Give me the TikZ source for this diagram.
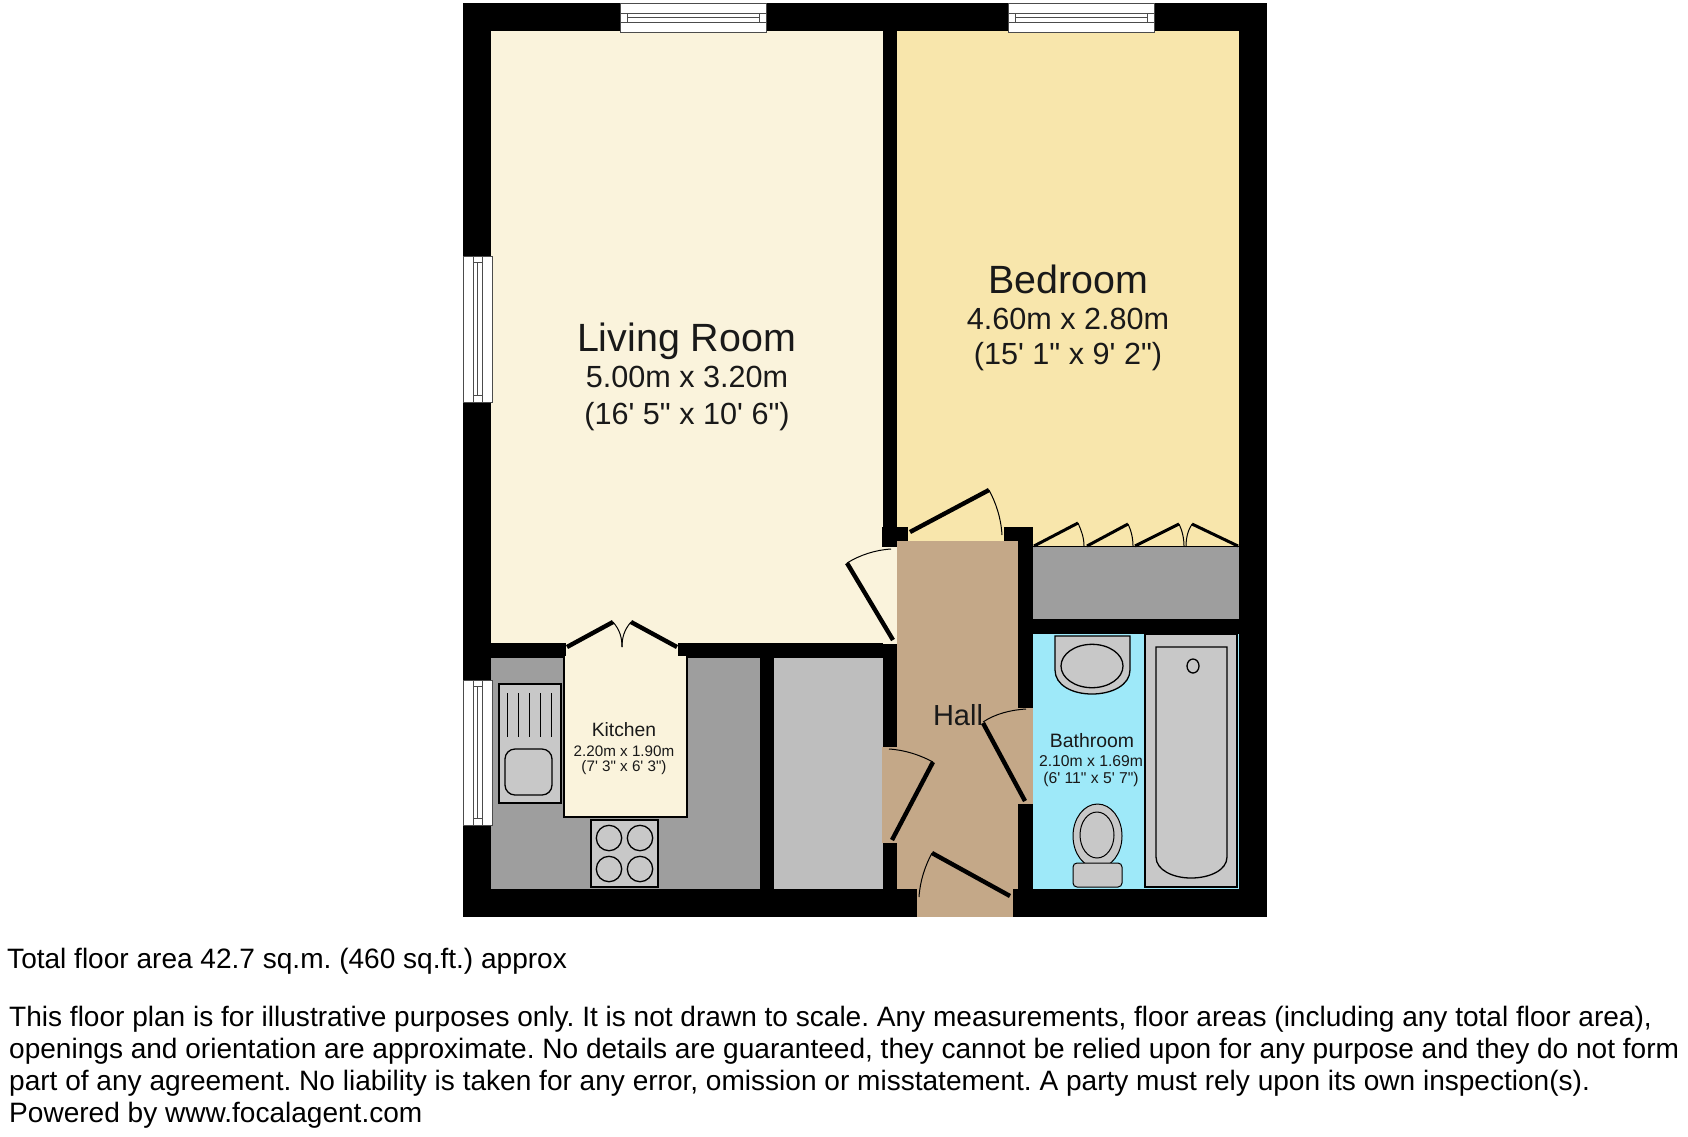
\documentclass[tikz,border=0pt]{standalone}
\usepackage{fontspec}
\setmainfont{Liberation Sans}[Ligatures=TeXOff]
\definecolor{livingc}{HTML}{FAF3DC}
\definecolor{bedc}{HTML}{F8E6AC}
\definecolor{hallc}{HTML}{C4A888}
\definecolor{bathc}{HTML}{9EE9F9}
\definecolor{unitc}{HTML}{9E9E9E}
\definecolor{cupc}{HTML}{BEBEBE}
\definecolor{fixc}{HTML}{C8C8C8}
\tikzset{
  leaf/.style={line width=4.4pt,line cap=butt},
  closetleaf/.style={line width=3pt,line cap=butt},
  swing/.style={line width=1pt},
  fixture/.style={draw=black,fill=fixc,line width=1.3pt},
  winframe/.style={draw=black!70,fill=white,line width=0.9pt},
  winline/.style={draw=black!70,line width=0.9pt},
  lbl/.style={inner sep=0pt,text=black!90},
  foot/.style={inner sep=0pt,anchor=base west,font=\fontsize{28.05}{28.05}\selectfont}
}
\begin{document}
\frenchspacing
\begin{tikzpicture}[x=1pt,y=-1pt]
\useasboundingbox (0,0) rectangle (1688,1136);
\fill[white] (0,0) rectangle (1688,1136);
% outer shell
\fill[black] (463,3) rectangle (1267,917);
% floors
\fill[livingc] (491,31) rectangle (883,643);
\fill[livingc] (883,547) rectangle (897,644);
\fill[bedc] (897,31) rectangle (1239,546);
\fill[unitc] (491,658) rectangle (760,889);
\fill[cupc] (774,658) rectangle (883,889);
\fill[unitc] (1033,546) rectangle (1239,619);
\fill[bathc] (1033,634) rectangle (1239,889);
% hall with door openings
\fill[hallc] (897,541) rectangle (1018,889);
\fill[hallc] (882,747) rectangle (897,843);
\fill[hallc] (1018,708) rectangle (1033,804);
\fill[hallc] (917,889) rectangle (1013,917);
\fill[bedc] (908,527) rectangle (1004,541);
% wall stubs
\fill[black] (882,527) rectangle (897,547);
\fill[black] (897,527) rectangle (908,541);
\fill[black] (1004,527) rectangle (1033,541);
\fill[black] (1018,527) rectangle (1033,708);
\fill[black] (1033,619) rectangle (1239,634);
% kitchen
\fill[livingc] (566,643) rectangle (678,658);
\draw[draw=black,line width=1.2pt] (564,658) -- (564,817) -- (687,817) -- (687,658);
\fill[livingc] (564.6,656) rectangle (686.4,816.4);
\draw[fixture] (499,684) rectangle (561,803);
\foreach \xr in {507.3,518.3,529.3,540.7,551.7}
  \draw[black,line width=1.3pt] (\xr,693) -- (\xr,737);
\draw[fixture,rounded corners=10pt] (505,749) rectangle (552,795);
\draw[fixture] (591,820) rectangle (658,887);
\foreach \cx in {609,640} \foreach \cy in {838,869}
  \draw[fixture] (\cx,\cy) circle (12.7);
% windows: horizontal
\foreach \wx in {620.5,1008.5} {
  \begin{scope}[xshift=\wx pt]
    \draw[winframe] (0,3) rectangle (145.5,32.5);
    \draw[winline] (0,13) -- (145.5,13);
    \draw[winline] (0,22.5) -- (145.5,22.5);
    \draw[winline] (6.5,13) -- (6.5,22.5);
    \draw[winline] (139,13) -- (139,22.5);
    \draw[winline] (6.5,17.8) -- (139,17.8);
  \end{scope}
}
% windows: vertical
\foreach \wy/\wh in {256/146,680/145} {
  \begin{scope}[yshift=-\wy pt]
    \draw[winframe] (463,0) rectangle (492.5,\wh);
    \draw[winline] (473,0) -- (473,\wh);
    \draw[winline] (482.8,0) -- (482.8,\wh);
    \draw[winline] (473,6.3) -- (482.8,6.3);
    \draw[winline] (473,\wh-6.5) -- (482.8,\wh-6.5);
    \draw[winline] (477.9,6.3) -- (477.9,\wh-6.5);
  \end{scope}
}
% closet line
\draw[black,line width=1pt] (1033,546) -- (1239,546);
% doors
\draw[leaf] (567,647) -- (613,622);
\draw[leaf] (677,647) -- (631,622);
\draw[swing] (613,622) .. controls (620,630) and (622,638) .. (622,647);
\draw[swing] (631,622) .. controls (624,630) and (622,638) .. (622,647);
\draw[leaf] (893,640) -- (847,563);
\draw[swing] (847,563) .. controls (860,555) and (875,550) .. (891,549);
\draw[leaf] (910,532) -- (989,490);
\draw[swing] (989,490) .. controls (996,503) and (1001,518) .. (1002,535);
\draw[closetleaf] (1034,546) -- (1078,523);
\draw[swing] (1078,523) .. controls (1081,530) and (1084,537) .. (1084,546);
\draw[closetleaf] (1087,546) -- (1128,524);
\draw[swing] (1128,524) .. controls (1131,530) and (1133,538) .. (1133,546);
\draw[closetleaf] (1135,546) -- (1179,524);
\draw[swing] (1179,524) .. controls (1182,530) and (1184,538) .. (1184,546);
\draw[closetleaf] (1238,546) -- (1192,524);
\draw[swing] (1192,524) .. controls (1188,530) and (1186,538) .. (1186,546);
\draw[leaf] (983,723) -- (1025,801);
\draw[swing] (983,722) .. controls (995,714) and (1010,710) .. (1026,709);
\draw[leaf] (892,840) -- (933,762);
\draw[swing] (889,749) .. controls (905,750) and (920,755) .. (933,762);
\draw[leaf] (1010,896) -- (932,853);
\draw[swing] (932,853) .. controls (925,866) and (920,881) .. (919,897);
% bathroom fixtures
\draw[fixture] (1055,636) -- (1130,636) -- (1130,670) .. controls (1130,685) and (1112,694) .. (1092,694) .. controls (1072,694) and (1055,685) .. (1055,670) -- cycle;
\draw[fixture] (1092,666) ellipse (31 and 21.7);
\draw[fixture] (1145,634) rectangle (1237,887);
\draw[fixture] (1156,647) -- (1227,647) -- (1227,857) .. controls (1227,870) and (1210,878) .. (1191,878) .. controls (1173,878) and (1156,870) .. (1156,857) -- cycle;
\draw[fixture] (1193,666) ellipse (6 and 7);
\draw[fixture,line width=1pt] (1097.5,836) ellipse (24.5 and 32);
\draw[fixture,line width=1pt] (1097,835) ellipse (17 and 23);
\draw[fixture,line width=1pt,rounded corners=4pt] (1073,863) -- (1122,863) -- (1122,887) -- (1073,887) -- cycle;
% labels
\node[lbl,font=\fontsize{39.4}{39.4}\selectfont] (lr) at (686.5,341) {Living Room};
\node[lbl,font=\fontsize{30.6}{30.6}\selectfont] (lrd) at (687,377) {5.00m x 3.20m};
\node[lbl,font=\fontsize{30.6}{30.6}\selectfont] (lrf) at (687,416.5) {(16' 5" x 10' 6")};
\node[lbl,font=\fontsize{39.4}{39.4}\selectfont] (bd) at (1068,279) {Bedroom};
\node[lbl,font=\fontsize{30.6}{30.6}\selectfont] (bdd) at (1068,319) {4.60m x 2.80m};
\node[lbl,font=\fontsize{30.6}{30.6}\selectfont] (bdf) at (1068,357) {(15' 1" x 9' 2")};
\node[lbl,font=\fontsize{19.3}{19.3}\selectfont] (ki) at (624,730) {Kitchen};
\node[lbl,font=\fontsize{15.2}{15.2}\selectfont] (kid) at (624,751) {2.20m x 1.90m};
\node[lbl,font=\fontsize{15.2}{15.2}\selectfont] (kif) at (624,768) {(7' 3" x 6' 3")};
\node[lbl,font=\fontsize{19.4}{19.4}\selectfont] (ba) at (1092,741) {Bathroom};
\node[lbl,font=\fontsize{15.7}{15.7}\selectfont] (bad) at (1091,761) {2.10m x 1.69m};
\node[lbl,font=\fontsize{15.7}{15.7}\selectfont] (baf) at (1091,779) {(6' 11" x 5' 7")};
\node[lbl,font=\fontsize{29}{29}\selectfont] (ha) at (958,715) {Hall};
\node[foot] (f0) at (7,968) {Total floor area 42.7 sq.m. (460 sq.ft.) approx};
\node[foot] (f1) at (9,1026) {This floor plan is for illustrative purposes only. It is not drawn to scale. Any measurements, floor areas (including any total floor area),};
\node[foot] (f2) at (9,1058) {openings and orientation are approximate. No details are guaranteed, they cannot be relied upon for any purpose and they do not form};
\node[foot] (f3) at (9,1090) {part of any agreement. No liability is taken for any error, omission or misstatement. A party must rely upon its own inspection(s).};
\node[foot] (f4) at (9,1122.5) {Powered by www.focalagent.com};
\end{tikzpicture}
\end{document}
